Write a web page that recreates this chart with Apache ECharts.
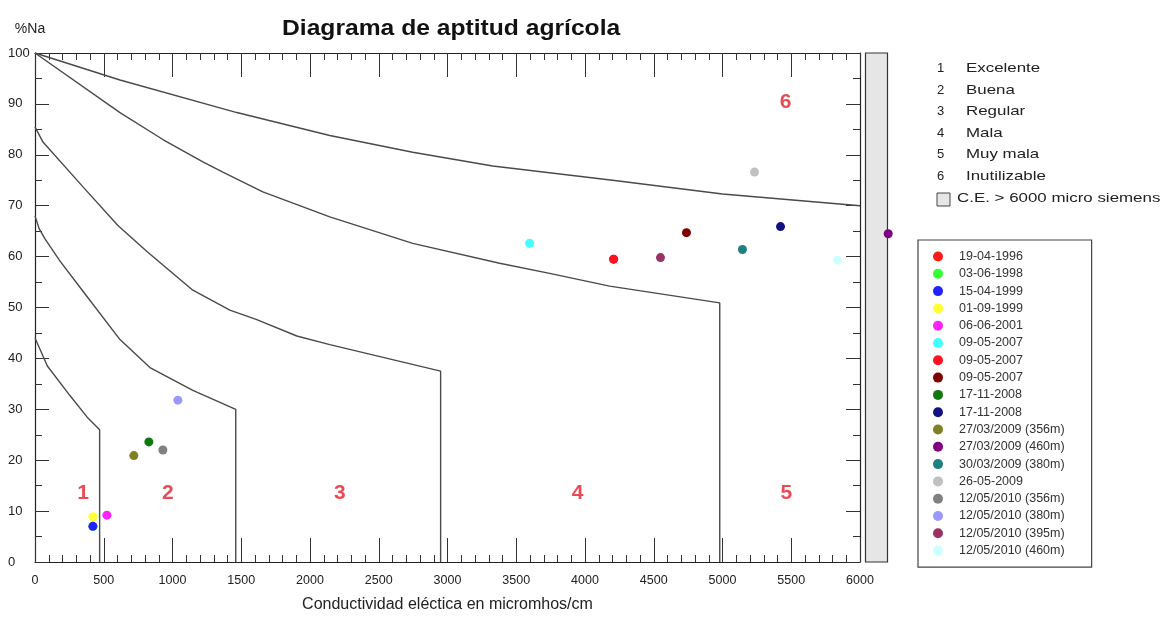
<!DOCTYPE html>
<html><head><meta charset="utf-8">
<script src="https://cdn.jsdelivr.net/npm/echarts@6/dist/echarts.min.js"></script>
<style>html,body{margin:0;padding:0;background:#fff}#c{width:1167px;height:618px}</style>
</head><body><div id="c"></div>
<script>
// ---- data ----
const sampleNames = ['19-04-1996','03-06-1998','15-04-1999','01-09-1999','06-06-2001','09-05-2007','09-05-2007','09-05-2007','17-11-2008','17-11-2008','27/03/2009 (356m)','27/03/2009 (460m)','30/03/2009 (380m)','26-05-2009','12/05/2010 (356m)','12/05/2010 (380m)','12/05/2010 (395m)','12/05/2010 (460m)'];
const sampleColors = ['#ff1a1a','#33ff33','#2222ff','#ffff33','#ff22ff','#44ffff','#ff1122','#800000','#117711','#11117f','#808020','#800080','#208080','#c0c0c0','#808080','#9999ff','#993366','#ccffff'];
const sampleX = [4208, 421, 421, 421, 523, 3597, 4208, 4738, 828, 5422, 719, 6205, 5145, 5233, 930, 1039, 4549, 5836];
const sampleY = [59.5, 7.0, 7.0, 8.9, 9.2, 62.6, 59.5, 64.7, 23.6, 65.9, 20.9, 64.5, 61.4, 76.6, 22.0, 31.8, 59.8, 59.3];

const curveA = [[0,100],[618,94.7],[1468,88.3],[2144,83.8],[2747,80.5],[3329,77.8],[4200,75.0],[5000,72.3],[6000,70]];
const curveB = [[0,100],[618,88.3],[930,83.0],[1221,78.6],[1366,76.6],[1657,72.7],[2144,67.8],[2747,62.6],[3379,58.7],[3743,56.7],[4179,54.2],[4980,50.9],[4980,0]];
const curveC = [[0,85.5],[58,82.5],[349,73.7],[603,66.1],[814,61.0],[1148,53.4],[1417,49.5],[1613,47.6],[1904,44.4],[2144,42.7],[2950,37.5],[2950,0]];
const curveD = [[0,68],[30,65.5],[73,63.5],[182,59.1],[349,53.2],[618,43.7],[836,38.2],[1148,33.7],[1460,30],[1460,0]];
const curveE = [[0,44],[90,38.5],[254,32.7],[378,28.5],[470,26],[470,0]];

const classNumbers = ['1','2','3','4','5','6'];
const classNames = ['Excelente','Buena','Regular','Mala','Muy mala','Inutilizable'];
const classLabelX = [349, 967, 2217, 3946, 5465, 5458];
const classLabelY = [13.5, 13.5, 13.5, 13.5, 13.5, 90.4];
const ceBar = [6040, 6200];
const ceLabel = 'C.E. > 6000 micro siemens';

// ---- chart ----
const FONT = 'Liberation Sans, Arial, sans-serif';
const chart = echarts.init(document.getElementById('c'), null, {renderer: 'canvas'});

const uniqNames = [];
const seen = {};
sampleNames.forEach(n => { seen[n] = (seen[n] || 0) + 1; uniqNames.push(n + ' '.repeat(seen[n] - 1)); });

const series = [];
[curveA, curveB, curveC, curveD, curveE].forEach((c, i) => {
  series.push({type: 'line', name: 'curve' + i, data: c, showSymbol: false, silent: true,
    lineStyle: {color: '#4a4a4a', width: 1.4}, z: 2});
});
series.push({type: 'custom', name: 'ceBar', clip: false, silent: true,
  data: [[ceBar[0], ceBar[1], 0, 100]],
  renderItem: (p, api) => {
    const a = api.coord([api.value(0), api.value(3)]);
    const b = api.coord([api.value(1), api.value(2)]);
    return {type: 'rect', shape: {x: a[0], y: a[1], width: b[0] - a[0], height: b[1] - a[1]},
      style: {fill: '#e6e6e6', stroke: '#333', lineWidth: 1.2}};
  }, z: 1});
series.push({type: 'scatter', name: 'classes', silent: true, symbolSize: 20,
  itemStyle: {color: 'rgba(0,0,0,0)'},
  data: classNumbers.map((n, i) => [classLabelX[i], classLabelY[i], n]),
  label: {show: true, position: 'inside', formatter: p => p.data[2], color: '#e41e2b',
    fontSize: 21, fontWeight: 'bold', fontFamily: FONT}});
uniqNames.forEach((n, i) => {
  series.push({type: 'scatter', name: n, clip: false, symbol: 'circle', symbolSize: 9,
    itemStyle: {color: sampleColors[i], opacity: 1}, data: [[sampleX[i], sampleY[i]]], z: 5});
});

const axisLine = {show: true, onZero: false, lineStyle: {color: '#222', width: 1.2}};
const xCommon = {type: 'value', min: 0, max: 6000, interval: 500, splitLine: {show: false},
  axisLine: axisLine, axisTick: {show: true, inside: true, length: 24, lineStyle: {color: '#333'}},
  minorTick: {show: true, splitNumber: 5, length: 7, lineStyle: {color: '#333'}}, minorSplitLine: {show: false}};
const yCommon = {type: 'value', min: 0, max: 100, interval: 10, splitLine: {show: false},
  axisLine: axisLine, axisTick: {show: true, inside: true, length: 14, lineStyle: {color: '#333'}},
  minorTick: {show: true, splitNumber: 2, length: 7, lineStyle: {color: '#333'}}, minorSplitLine: {show: false}};

const graphic = [];
classNumbers.forEach((n, i) => {
  const y = 70 + i * 21.6;
  graphic.push({type: 'text', x: 937, y: y - 8, style: {text: n, font: '13px ' + FONT, fill: '#222'}});
  graphic.push({type: 'text', x: 966, y: y - 8, scaleX: 1.3, style: {text: classNames[i], font: '13px ' + FONT, fill: '#222'}});
});
graphic.push({type: 'rect', x: 937, y: 193, shape: {width: 13, height: 13}, style: {fill: '#e6e6e6', stroke: '#444', lineWidth: 1}});
graphic.push({type: 'text', x: 957, y: 192, scaleX: 1.3, style: {text: ceLabel, font: '13px ' + FONT, fill: '#222'}});
graphic.push({type: 'text', x: 282, y: 18, scaleX: 1.12, style: {text: 'Diagrama de aptitud agrícola', font: 'bold 22px ' + FONT, fill: '#111'}});

chart.setOption({
  animation: false,
  backgroundColor: '#fff',
  textStyle: {fontFamily: FONT},
  grid: {left: 35, top: 53, right: 307, bottom: 49, containLabel: false},
  xAxis: [
    Object.assign({}, xCommon, {position: 'bottom', name: 'Conductividad eléctica en micromhos/cm',
      nameLocation: 'middle', nameGap: 35, nameTextStyle: {fontSize: 16, color: '#222', fontFamily: FONT},
      axisLabel: {fontSize: 12.5, color: '#222', margin: 12, fontFamily: FONT, formatter: v => String(v)}}),
    Object.assign({}, xCommon, {position: 'top', axisLabel: {show: false}})
  ],
  yAxis: [
    Object.assign({}, yCommon, {position: 'left', name: '%Na', nameLocation: 'end', nameGap: 17,
      nameTextStyle: {fontSize: 14, color: '#222', fontFamily: FONT, align: 'center', padding: [0, 10, 0, 0]},
      axisLabel: {fontSize: 13, color: '#222', margin: 27, align: 'left', fontFamily: FONT, formatter: v => String(v)}}),
    Object.assign({}, yCommon, {position: 'right', axisLabel: {show: false}})
  ],
  legend: {
    data: uniqNames, orient: 'vertical', left: 918, top: 240,
    padding: [10, 27, 10, 15], itemGap: 4.3, itemWidth: 32, itemHeight: 10, icon: 'circle',
    borderColor: '#444', borderWidth: 1.2, selectedMode: false,
    formatter: n => n.trim(),
    textStyle: {fontSize: 12.5, color: '#333', lineHeight: 12, fontFamily: FONT}
  },
  graphic: graphic,
  series: series
});
</script>
</body></html>
